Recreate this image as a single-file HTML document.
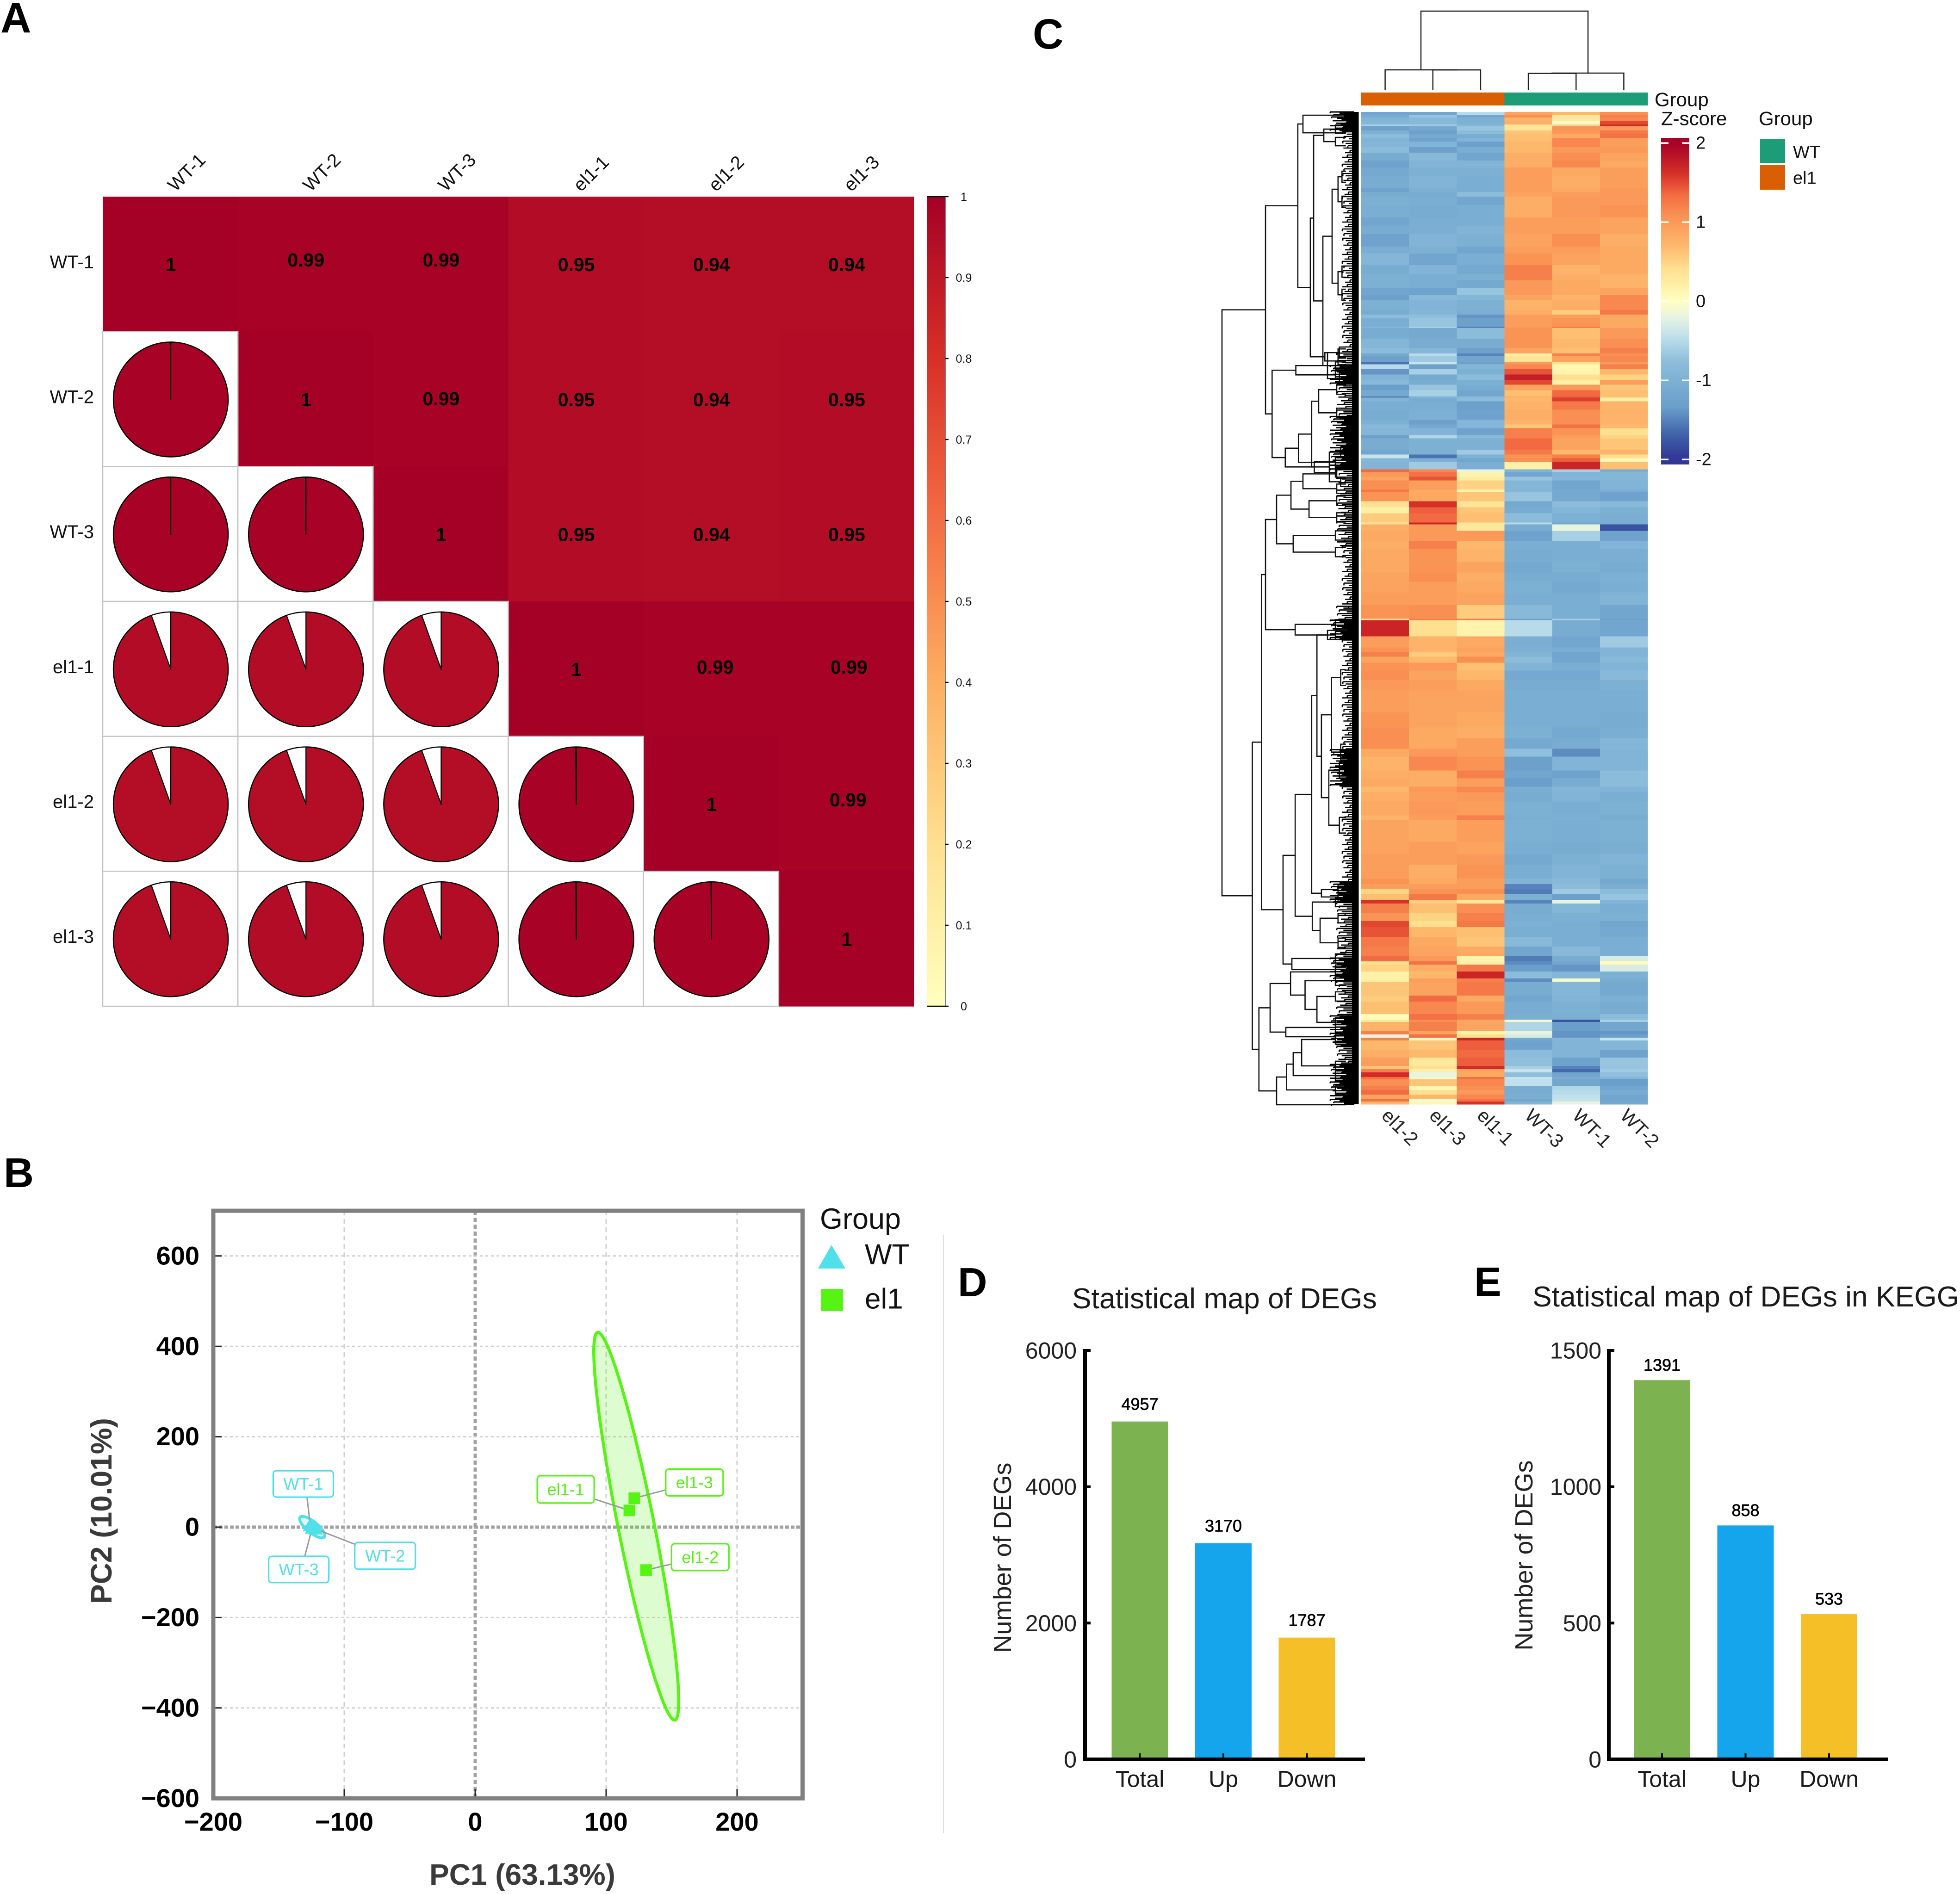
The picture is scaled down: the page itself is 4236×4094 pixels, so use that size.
<!DOCTYPE html>
<html lang="en">
<head>
<meta charset="utf-8">
<title>DEG analysis multi-panel figure</title>
<style>
html,body{margin:0;padding:0;background:#fff}
svg{display:block}
text{font-family:"Liberation Sans",sans-serif}
</style>
</head>
<body>
<svg id="figure" xmlns="http://www.w3.org/2000/svg" width="4236" height="4094" viewBox="0 0 4236 4094">
  <defs>
    <linearGradient id="corrGrad" x1="0" y1="0" x2="0" y2="1"></linearGradient>
    <linearGradient id="zGrad" x1="0" y1="0" x2="0" y2="1"></linearGradient>
  </defs>
  <rect x="0" y="0" width="4236" height="4094" fill="#fff"/>
  <text x="1" y="70" font-size="92" font-weight="700">A</text>
  <text x="8" y="2566" font-size="90" font-weight="700">B</text>
  <text x="2232" y="105" font-size="92" font-weight="700">C</text>
  <text x="2070" y="2802" font-size="88" font-weight="700">D</text>
  <text x="3186" y="2801" font-size="88" font-weight="700">E</text>
  <line x1="2039" y1="2670" x2="2039" y2="3962" stroke="#dedede" stroke-width="2"/>
  <g id="panelA"></g>
  <g id="panelB"></g>
  <g id="panelC"></g>
  <g id="panelD"></g>
  <g id="panelE"></g>
</svg>
<script>
/* ---------- Panel A data ---------- */
const corrSamples = ['WT-1','WT-2','WT-3','el1-1','el1-2','el1-3'];
const corrValues = [
  [1,0.99,0.99,0.95,0.94,0.94],
  [0.99,1,0.99,0.95,0.94,0.95],
  [0.99,0.99,1,0.95,0.94,0.95],
  [0.95,0.95,0.95,1,0.99,0.99],
  [0.94,0.94,0.94,0.99,1,0.99],
  [0.94,0.95,0.95,0.99,0.99,1]
];
const pieShares = [
  [1,1,1,1,1,1],
  [0.9985,1,1,1,1,1],
  [0.9985,0.9985,1,1,1,1],
  [0.945,0.945,0.945,1,1,1],
  [0.945,0.945,0.945,0.998,1,1],
  [0.945,0.945,0.945,0.9985,0.9985,1]
];
const corrBarTicks = [1,0.9,0.8,0.7,0.6,0.5,0.4,0.3,0.2,0.1,0];

/* ---------- Panel B data ---------- */
const pcaXTicks = [-200,-100,0,100,200];
const pcaYTicks = [600,400,200,0,-200,-400,-600];
const wtNames = ['WT-1','WT-2','WT-3'];
const wtPC1 = [-126,-122,-124.5];
const wtPC2 = [4,-4,-2];
const el1Names = ['el1-1','el1-2','el1-3'];
const el1PC1 = [117.7,130.5,121.5];
const el1PC2 = [37,-95,64];
const wtEllipse = [-124.5,0,9.2,-22,2.8,9];
const el1Ellipse = [123,2,-29.5,429,13.5,8.3];

/* ---------- Panel C data ---------- */
const heatColumns = ['el1-2','el1-3','el1-1','WT-3','WT-1','WT-2'];
const heatGroups = ['el1','el1','el1','WT','WT','WT'];
const zTicks = [2,1,0,-1,-2];
/* each row: gene-span, then z-score per column */
const heatRows = [
[7,-1.2,-1.2,-.5,.9,.7,1.1],[5,-1.1,-.7,-1.2,1.1,.3,1.2],[7,-.95,-.85,-1,.75,.3,1.15],[8,-.9,-.85,-1,.8,-.1,1.5],[4,-.6,-.65,-.9,.35,.5,1.65],
[9,-1.3,-1.15,-.7,.35,1.05,1],[8,-1,-1.3,-.8,.6,1,1.25],[8,-.8,-1.15,-1.1,.65,.85,1.3],[8,-.95,-1.25,-.95,.65,1.15,.95],[12,-.9,-.95,-1.3,.7,1.15,.95],
[12,-.8,-1.3,-1.05,.7,1,1],[17,-1.1,-.85,-1.2,.8,1.1,.9],[15,-1.25,-.95,-.95,.8,1.15,.85],[18,-1.15,-1,-1,.95,.85,.95],[27,-1.1,-.95,-1.05,.95,.8,.95],
[8,-1.25,-1,-1.05,.95,.85,1],[10,-1.1,-1.1,-.8,.9,.95,1],[18,-1,-1.05,-1.2,.8,1,1],[27,-1.05,-1.1,-1.05,.8,1,1.05],[18,-1.2,-1.05,-1.05,.95,.95,.9],
[18,-1.1,-1.05,-.95,.95,.95,.9],[27,-1.25,-.95,-1,.9,1.1,.8],[15,-1.05,-1,-1.2,.95,.95,.85],[25,-.9,-1.2,-1.05,1.05,.9,.85],[20,-1.1,-.95,-1.15,1.2,.75,.85],
[13,-1,-1.05,-1,1.2,.8,.75],[17,-1,-1.05,-1.15,1,.85,.75],[15,-1.2,-1.25,-.7,1,.85,.9],
[10,-1.3,-.85,-.9,.9,.75,1.15],[22,-1,-.95,-1,.75,.8,1.15],[10,-1.1,-.9,-1.05,.8,.55,1.25],[8,-.8,-.75,-1.4,.95,.95,.85],[18,-1.05,-.7,-1.3,.95,1.05,.85],
[3,-.9,-.6,-1.5,1,1.2,.85],[23,-1.1,-1.15,-.8,1.05,.65,1],[20,-.9,-1.1,-1.1,1.05,.7,1.1],[12,-.8,-.9,-1.3,.9,.65,1.2],[5,-1.15,-.5,-1.5,.25,1.2,1.1],
[13,-1.3,-.65,-1.2,.35,.9,1.15],[5,-1.6,-.4,-1.3,1,.4,1],[10,-.5,-1.3,-.9,1.15,.1,1.2],[12,-1.4,-.6,-1,1.45,.15,.7],[12,-.95,-1.15,-.8,1.75,.4,.5],
[10,-.85,-1.1,-1,1.5,.2,.95],[12,-1.35,-.7,-1.1,.9,1,.6],[13,-1.15,-.6,-1.2,.65,1.35,.65],[3,-1.5,-.9,-.9,.8,1.4,.6],[8,-.95,-1.1,-.8,.7,1.55,.2],
[18,-1.05,-1.05,-1.3,.75,1.25,.75],[22,-1.1,-1,-1.25,.8,1.1,.75],[10,-1,-1.3,-.9,.75,1.1,.75],[8,-.85,-1.15,-.9,.6,1.3,.7],[15,-.9,-.95,-1.25,1.2,1.05,.4],
[7,-1.3,-.55,-.85,1.2,.95,.5],[25,-1.1,-1,-1,1.35,.9,.6],[10,-1.2,-1,-.65,1.25,.7,.75],[8,-.4,-1.6,-1,1.05,1.2,.4],[8,-.9,-1,-1.2,1.1,1.4,.1],[16,-.95,-.65,-1.05,.2,1.7,.65],
[6,1.35,1.15,-.2,-.95,-.6,-1.05],[10,1,1.3,.15,-1.2,-.95,-.9],[8,.9,1.45,.25,-.7,-.9,-.9],[20,1.1,.95,.5,-.9,-1.2,-.95],[5,1.25,.85,.15,-.9,-1.15,-1.05],
[20,1.05,.85,.6,-.7,-1.15,-1.25],[13,.4,1.6,.35,-1.15,-.8,-.85],[13,.2,1.4,.6,-1.1,-.9,-1],[20,.55,1.35,.65,-.8,-1,-1.05],[4,.35,1.7,.3,-.5,-1.2,-1.1],
[14,.8,1,.3,-1.1,-.2,-1.8],[22,.85,1,1,-1.25,-.6,-1.25],[17,.8,1.2,.7,-1.05,-1.05,-.95],[28,.85,1.05,.75,-1.1,-1.05,-1.05],[23,.85,1.05,.9,-1.15,-1,-1.1],
[20,.9,1.1,.8,-1.1,-1.1,-1],[23,.9,.95,.85,-1,-1.15,-1.05],[27,.95,.95,.9,-1.05,-1.05,-.95],[30,1.05,1.1,.55,-.85,-1.05,-1.2],[3,.3,1.2,1.2,-1.3,-.6,-1.3],
[35,1.7,.4,.15,-.5,-1.1,-1.2],[24,.95,.75,.85,-1.05,-1.2,-.65],
[10,1.05,.75,.9,-1,-1.05,-.95],[10,1.2,.55,.85,-.95,-1.2,-.95],[13,.9,.7,1.1,-.8,-1.2,-.85],[17,1.05,1,.65,-.95,-1.05,-.95],[20,1.1,.9,.7,-1.15,-1.15,-.85],
[23,1,.95,.85,-1.1,-1.1,-1],[47,.95,.9,.9,-1.05,-1.05,-1.05],[33,1.05,.9,.85,-1.05,-1.05,-1.1],[23,1.1,.85,.8,-1,-1.15,-1.05],[23,1.1,.85,.95,-1.15,-1.1,-.9],
[17,.85,1,.95,-.75,-1.45,-.95],[30,.75,1.15,1.05,-1.3,-.95,-.95],[17,.8,.8,1.2,-1.2,-1.25,-.8],[18,.85,.8,.95,-1.35,-1.1,-.8],[12,.7,1,1.15,-1.05,-.9,-.95],
[20,.8,.95,1,-1.1,-.95,-1.05],[30,.85,1,.95,-1,-1.05,-1],[10,.75,.95,1.2,-1.05,-1,-1.1],[47,.9,.85,.95,-1,-1.05,-1],
[27,.9,.95,.9,-1.05,-1.1,-1.05],[22,.95,.95,1,-1.15,-1,-.95],[30,.95,.8,1.05,-1.05,-.95,-1],[12,1.05,.85,.95,-.95,-.85,-1.15],[10,.95,.95,.95,-1.5,-.8,-1.05],
[12,.5,1.05,1.1,-1.55,-.65,-.8],[12,.65,1.25,.85,-1,-1.3,-.7],[8,1.6,.55,.3,-1.5,-.2,-.95],[20,1.2,.65,1.1,-1.1,-.9,-1.05],[18,1.05,.5,1.2,-1.05,-1,-1],
[13,1.5,.4,1.25,-1,-1.05,-1.2],[22,1.45,.7,.65,-1.05,-1.05,-1.15],[20,1.25,.85,.6,-.85,-1.05,-1.05],[20,1.2,.9,.85,-1.2,-.85,-1.05],[12,1.35,1,.15,-1.55,-1.1,-.3],
[7,.4,1.3,.2,-1.45,-1.2,.05],[15,.5,.8,1.25,-1.35,-1.4,-.3],
[15,.2,.7,1.7,-.8,-.9,-1],[7,.2,.95,1.2,-1.45,-.1,-1.1],[30,.6,.9,1.25,-1.1,-.9,-1.15],[13,.55,1.35,.85,-1.2,-.95,-1],[27,.65,1.15,1,-1.1,-1,-1.1],
[12,.05,1.3,1.2,-1.05,-1.05,-.8],[5,.3,1.1,.85,-.1,-1.8,-.6],[20,.75,1.2,.9,-.55,-1.35,-1.2],[7,1.2,.9,.15,-.2,-1.4,-1.4],[7,-.2,1.3,.4,-.3,-1.4,-1.3],
[6,1.2,-.1,1.7,-1.15,-.9,-.4],[20,.7,.6,1.4,-1.25,-.95,-.9],[17,.8,.7,1.35,-.8,-.95,-1.25],[18,.95,.3,1.4,-.75,-1.25,-.7],[7,.6,.4,1.65,-.6,-1.5,-.7],
[7,1.2,.2,.9,-.4,-1.65,-.65],[10,1.65,-.2,.85,-.75,-1.2,-.75],[5,1.3,-.1,1.3,-.4,-1.1,-.9],[15,1.1,.6,1.15,-.45,-1.2,-1.35],[8,1.2,.1,1.1,-1.1,-.55,-1.2],
[10,1.35,.4,1,-1.1,-.5,-1.1],[10,.9,.7,1.15,-1.05,-.45,-1.2],[5,1.3,-.1,1.3,-1.2,-.4,-1.2],[6,.7,.1,1.6,-.95,-.2,-1.15]
];
/* column tree: [height, childA, childB], leaf = column index */
const columnTree = [1,[0.253,0,[0.252,1,2]],[0.212,[0.208,3,4],5]];
/* row tree: [height, childA, childB], leaf = row-order position */
const rowTree = [100,
 [67,
  [42.5,[38.6,7,45],[33,[30.5,[22.8,[14,28,46],[14,55,73]],[23.5,[16.5,[12,[9,128,152],[9,182,206]],[12,[9,333,357],[9,383,407]]],[20,[11,508,532],[11,564,588]]]],[22,[12,512,528],[12,530,546]]]],
  [62,[44,[14,540,556],[14,560,576]],[52,[42,[32,[26.7,[13,590,610],[13,640,660]],[18.6,[10,725,745],[10,789,809]]],[14,747,767]],[30,[14,745,765],[14,769,789]]]]
 ],
 [77,
  [70,
   [67,[58.6,[47.7,[38.6,[13,772,792],[13,804,824]],[34,[13,830,850],[13,866,886]]],[46,[14,905,925],[14,941,961]]],[44.5,[14,1097,1117],[14,1120,1140]]],
   [53.7,
    [44.5,
     [32,[28,[20,1120,1140],[24.6,[17,[10,1205,1239],[10,1366,1400]],[19,[11,1405,1439],[11,1524,1558]]]],[24.6,[12,1670,1690],[12,1686,1706]]],
     [31.5,[14,1697,1717],[25.6,[12,1732,1752],[12,1785,1805]]]
    ],
    [47,[14,1819,1839],[14,1843,1863]]
   ]
  ],
  [72,
   [63.5,[48,[14,1848,1868],[37,[14,1867,1887],[28,[14,1901,1921],[14,1957,1977]]]],[51.6,[14,1968,1988],[14,1988,2008]]],
   [58.6,[51,[46,[39.6,[14,1994,2014],[14,2051,2071]],[14,2072,2092]],[14,2103,2123]],2145]
  ]
 ]
];
/* tree tips density by row-order range */
const tipBands = [
[0,43,'dense'],[43,521,'sparse'],[521,548,'mid'],[548,588,'dense'],[588,658,'mid'],[658,773,'dense'],
[773,938,'mid'],[938,1068,'sparse'],[1068,1098,'mid'],[1098,1141,'dense'],[1141,1378,'sparse'],[1378,1458,'dense'],
[1458,1663,'sparse'],[1663,1708,'dense'],[1708,1828,'mid'],[1828,1878,'dense'],[1878,1953,'mid'],[1953,2019,'dense'],
[2019,2058,'mid'],[2058,2145,'dense']
];
const twigPattern = [1,.6,.85,.4,.95,.7,.5,.9,.3,.75,.55,1,.45,.8];

/* ---------- Panels D / E data ---------- */
const barCategories = ['Total','Up','Down'];
const degCounts = [4957,3170,1787];
const degTicks = [6000,4000,2000,0];
const keggCounts = [1391,858,533];
const keggTicks = [1500,1000,500,0];
const barColors = ['#7cb350','#14a5ec','#f5bf28'];

/* ---------- helpers ---------- */
const NS = 'http://www.w3.org/2000/svg';
function el(tag, attrs, parent, text){
  const n = document.createElementNS(NS, tag);
  for (const k in attrs) n.setAttribute(k, attrs[k]);
  if (text !== undefined) n.textContent = text;
  if (parent) parent.appendChild(n);
  return n;
}
function hex(c){return [parseInt(c.slice(1,3),16),parseInt(c.slice(3,5),16),parseInt(c.slice(5,7),16)];}
function ramp(stops, v){
  if (v <= stops[0][0]) return stops[0][1];
  for (let i = 1; i < stops.length; i++){
    if (v <= stops[i][0]){
      const t = (v - stops[i-1][0]) / (stops[i][0] - stops[i-1][0]);
      const a = hex(stops[i-1][1]), b = hex(stops[i][1]);
      return 'rgb(' + a.map((x,j)=>Math.round(x+(b[j]-x)*t)).join(',') + ')';
    }
  }
  return stops[stops.length-1][1];
}
const corrStops = [[0,'#ffffbf'],[.2,'#fee090'],[.4,'#fdae61'],[.6,'#f46d43'],[.8,'#d73027'],[1,'#a50026']];
const zStops = [[-2,'#313695'],[-1.7,'#3f60a8'],[-1.35,'#6a9ecb'],[-1,'#7db1d4'],[-.75,'#8fbfdc'],[-.45,'#c0e0ec'],[-.2,'#e8f4e0'],[0,'#ffffbf'],[.4,'#fee090'],[.7,'#fdb86c'],[1.1,'#f98f52'],[1.35,'#f26a41'],[1.6,'#d73027'],[2,'#a50026']];
const base = (c, s) => c + 0.35 * s;

/* ---------- Panel A ---------- */
(function(){
  const g = document.getElementById('panelA');
  const xA = c => 222 + c * 292.17;
  const yA = r => 425 + r * 291.67;
  const cw = 292.17, ch = 291.67, pieR = 124;
  const nudge = {'0,1':[0,-10],'0,2':[0,-10],'1,2':[0,-2],'3,4':[8,-5],'3,5':[5,-5],'4,5':[3,-10]};
  corrValues.forEach((row, r) => {
    row.forEach((v, c) => {
      if (c >= r){
        const cell = el('rect',{x:xA(c),y:yA(r),width:cw+.6,height:ch+.6,fill:ramp(corrStops,v)},g);
        
        
      }
    });
  });
  corrValues.forEach((row, r) => {
    row.forEach((v, c) => {
      const cx = xA(c + .5) + 1, cy = yA(r + .5) + 1;
      if (c >= r){
        const n = nudge[r + ',' + c] || [0,0];
        const t = el('text',{x:cx+n[0],y:base(cy+n[1],41),'font-size':41,'font-weight':700,'text-anchor':'middle',fill:'#000'},g,String(v));
        
        
      } else {
        const bg = el('rect',{x:xA(c),y:yA(r),width:cw,height:ch,fill:'#fff',stroke:'#c4c4c4','stroke-width':2.5},g);
        
        
        const share = pieShares[r][c];
        const ang = share * 2 * Math.PI;
        const ex = cx + pieR * Math.sin(ang), ey = cy - pieR * Math.cos(ang);
        const d = 'M'+cx+' '+cy+'L'+cx+' '+(cy-pieR)+'A'+pieR+' '+pieR+' 0 '+(share>.5?1:0)+' 1 '+ex+' '+ey+'Z';
        const pie = el('path',{d:d,fill:ramp(corrStops,v),stroke:'#000','stroke-width':2.2,'stroke-linejoin':'round'},g);
        
        
        const rim = el('circle',{cx:cx,cy:cy,r:pieR,fill:'none',stroke:'#000','stroke-width':2.4},g);
        
        
      }
    });
  });
  corrSamples.forEach((s, i) => {
    const a = el('text',{x:203,y:base(yA(i+.5)-5,40),'font-size':40,'text-anchor':'end',fill:'#111'},g,s);
    
    
    const px = xA(i+.5) + 11, py = 416;
    const b = el('text',{x:px,y:py,'font-size':40,fill:'#111',transform:'rotate(-45 '+px+' '+py+')'},g,s);
    
    
  });
  const grad = document.getElementById('corrGrad');
  for (let i = 0; i <= 20; i++){
    el('stop',{offset:i/20,'stop-color':ramp(corrStops,1-i/20)},grad);
  }
  const yBar = v => 425 + (1 - v) * 1750;
  const bar = el('rect',{x:2004,y:yBar(1),width:39,height:yBar(0)-yBar(1),fill:'url(#corrGrad)'},g);
  
  
  const axisL = el('line',{x1:2043,x2:2043,y1:yBar(1),y2:yBar(0),stroke:'#555','stroke-width':1.5},g);
  
  
  corrBarTicks.forEach(v => {
    const end = (v === 1 || v === 0);
    const tk = el('line',{x1:end?2004:2043,x2:2050,y1:yBar(v),y2:yBar(v),stroke:'#000','stroke-width':2.5},g);
    
    
    const lb = el('text',{x:2083,y:base(yBar(v),25),'font-size':25,'text-anchor':'middle',fill:'#111'},g,String(v));
    
    
  });
})();

/* ---------- Panel B ---------- */
(function(){
  const g = document.getElementById('panelB');
  const xB = v => 1027 + v * 2.83;
  const yB = v => 3301 - v * 0.977;
  const L = xB(-200), R = xB(250), T = yB(700), B = yB(-600);
  const CY = '#4fe0ea', GR = '#55f413';
  pcaXTicks.forEach(v => {
    if (v === -200) return;
    const ln = el('line',{x1:xB(v),x2:xB(v),y1:T,y2:B,stroke:v===0?'#a2a2a2':'#cfcfcf','stroke-width':v===0?7:3,'stroke-dasharray':v===0?'9 6':'10 8'},g);
    
    
  });
  pcaYTicks.forEach(v => {
    if (v === -600) return;
    const ln = el('line',{x1:L,x2:R,y1:yB(v),y2:yB(v),stroke:v===0?'#a2a2a2':'#cfcfcf','stroke-width':v===0?7:3,'stroke-dasharray':v===0?'8 4':'6 6'},g);
    
    
  });
  function ellipsePath(p){
    let d = '';
    for (let i = 0; i < 96; i++){
      const t = i / 96 * 2 * Math.PI;
      const vx = p[0] + p[2]*Math.cos(t) + p[4]*Math.sin(t);
      const vy = p[1] + p[3]*Math.cos(t) + p[5]*Math.sin(t);
      d += (i ? 'L' : 'M') + xB(vx).toFixed(1) + ' ' + yB(vy).toFixed(1);
    }
    return d + 'Z';
  }
  const e1 = el('path',{d:ellipsePath(el1Ellipse),fill:GR,'fill-opacity':.2,stroke:GR,'stroke-width':6.5},g);
  
  
  const e2 = el('path',{d:ellipsePath(wtEllipse),fill:CY,'fill-opacity':.2,stroke:CY,'stroke-width':6},g);
  
  

  /* connector + box layout, relative to the marker */
  const wtLayout = [[-80,-118,130,57,-7,-62],[85,29,131,58,85,33],[-94,61,130,57,-16,61]];
  const el1Layout = [[-199,-75,123,59,-74,-24],[55,-57,124,58,55,-13],[68,-63,124,58,68,-18]];
  function pointLabel(name, px, py, lay, col){
    const conn = el('line',{x1:px,y1:py,x2:px+lay[4],y2:py+lay[5],stroke:'#9a9a9a','stroke-width':3},g);
    
    
    const box = el('rect',{x:px+lay[0],y:py+lay[1],width:lay[2],height:lay[3],rx:7,ry:7,fill:'#fff',stroke:col,'stroke-width':3.2},g);
    
    
    const tx = el('text',{x:px+lay[0]+lay[2]/2,y:base(py+lay[1]+lay[3]/2,36),'font-size':36,'text-anchor':'middle',fill:col},g,name);
    
    
  }
  wtNames.forEach((n, i) => pointLabel(n, xB(wtPC1[i]), yB(wtPC2[i]), wtLayout[i], CY));
  el1Names.forEach((n, i) => pointLabel(n, xB(el1PC1[i]), yB(el1PC2[i]), el1Layout[i], GR));
  wtNames.forEach((n, i) => {
    const px = xB(wtPC1[i]), py = yB(wtPC2[i]);
    const tri = el('path',{d:'M'+px+' '+(py-16)+'L'+(px+16)+' '+(py+12)+'L'+(px-16)+' '+(py+12)+'Z',fill:CY},g);
    
    
  });
  el1Names.forEach((n, i) => {
    const sq = el('rect',{x:xB(el1PC1[i])-12.5,y:yB(el1PC2[i])-12.5,width:25,height:25,fill:GR},g);
    
    
  });
  pcaXTicks.forEach(v => {
    const tk = el('line',{x1:xB(v),x2:xB(v),y1:B,y2:B-20,stroke:'#222','stroke-width':3},g);
    
    
    const lb = el('text',{x:xB(v),y:3957,'font-size':56,'font-weight':700,'text-anchor':'middle',fill:'#000'},g,String(v).replace('-','\u2212'));
    
    
  });
  pcaYTicks.forEach(v => {
    const tk = el('line',{x1:L,x2:L+18,y1:yB(v),y2:yB(v),stroke:'#222','stroke-width':3},g);
    
    
    const lb = el('text',{x:431,y:base(yB(v)-1,56),'font-size':56,'font-weight':700,'text-anchor':'end',fill:'#000'},g,String(v).replace('-','\u2212'));
    
    
  });
  const frame = el('rect',{x:L,y:T,width:R-L,height:B-T,fill:'none',stroke:'#808080','stroke-width':9},g);
  
  
  const xt = el('text',{x:1129,y:4074,'font-size':64,'font-weight':700,'text-anchor':'middle',fill:'#3a3a3a'},g,'PC1 (63.13%)');
  
  
  const yt = el('text',{x:241,y:3266,'font-size':64,'font-weight':700,'text-anchor':'middle',fill:'#3a3a3a',transform:'rotate(-90 241 3266)'},g,'PC2 (10.01%)');
  
  
  const lt = el('text',{x:1772,y:base(2634,63),'font-size':63,fill:'#111'},g,'Group');
  
  
  const lk1 = el('path',{d:'M1797 2691L1827 2742L1768 2742Z',fill:CY},g);
  
  
  const ll1 = el('text',{x:1869,y:base(2711,62),'font-size':62,fill:'#111'},g,'WT');
  
  
  const lk2 = el('rect',{x:1774,y:2786,width:48,height:48,fill:GR},g);
  
  
  const ll2 = el('text',{x:1869,y:base(2807,62),'font-size':62,fill:'#111'},g,'el1');
  
  
})();

/* ---------- Panel C ---------- */
(function(){
  const g = document.getElementById('panelC');
  const HL = 2942, HR = 3561, HT = 242, HB = 2387;
  const colW = (HR - HL) / heatColumns.length;
  const xC = i => HL + i * colW;
  const total = heatRows.reduce((s, r) => s + r[0], 0);
  const yR = r => HT + r * (HB - HT) / total;
  const groupColor = {el1:'#d95f02', WT:'#1b9e77'};
  let pos = 0;
  const heatG = el('g',{'shape-rendering':'crispEdges'},g);
  
  
  heatRows.forEach(row => {
    const y0 = yR(pos), y1 = yR(pos + row[0]);
    for (let c = 0; c < heatColumns.length; c++){
      const cell = el('rect',{x:xC(c),y:y0,width:colW+.5,height:y1-y0+.5,fill:ramp(zStops,row[c+1])},heatG);
      
      
    }
    pos += row[0];
  });
  heatGroups.forEach((gr, i) => {
    const a = el('rect',{x:xC(i),y:200,width:colW+.5,height:28,fill:groupColor[gr]},g);
    
    
  });
  heatColumns.forEach((n, i) => {
    const px = xC(i+.5) - 10, py = 2414;
    const t = el('text',{x:px,y:py,'font-size':41,fill:'#222',transform:'rotate(45 '+px+' '+py+')'},g,n);
    
    
  });

  /* column dendrogram */
  const colHeight = h => 194 - h * 170;
  function drawCol(node){
    if (typeof node === 'number') return {x:xC(node+.5), y:194};
    const a = drawCol(node[1]), b = drawCol(node[2]);
    const y = colHeight(node[0]);
    const p = el('path',{d:'M'+a.x+' '+a.y+'V'+y+'H'+b.x+'V'+b.y,fill:'none',stroke:'#222','stroke-width':2.5},g);
    
    
    return {x:(a.x+b.x)/2, y:y};
  }
  drawCol(columnTree);

  /* row dendrogram */
  const xH = h => 2926 - h * 2.85;
  const leafH = 6;
  function drawRow(node){
    if (typeof node === 'number') return {x:xH(leafH), y:yR(node)};
    const a = drawRow(node[1]), b = drawRow(node[2]);
    const x = xH(node[0]);
    const p = el('path',{d:'M'+a.x+' '+a.y+'H'+x+'V'+b.y+'H'+b.x,fill:'none',stroke:'#111','stroke-width':2.6},g);
    
    
    return {x:x, y:(a.y+b.y)/2};
  }
  drawRow(rowTree);
  const tipStyle = {sparse:{step:5,len:24,w:2.6},mid:{step:4,len:36,w:2.7},dense:{step:2.7,len:50,w:2.9}};
  tipBands.forEach(b => {
    const st = tipStyle[b[2]];
    let d = '', i = 0;
    for (let y = yR(b[0]); y <= yR(b[1]); y += st.step, i++){
      const x0 = 2925 - st.len * twigPattern[i % twigPattern.length];
      d += 'M' + x0.toFixed(1) + ' ' + y.toFixed(1) + 'H2927';
      if (i % 2 === 0) d += 'M' + x0.toFixed(1) + ' ' + y.toFixed(1) + 'v' + st.step;
    }
    const tw = el('path',{d:d,fill:'none',stroke:'#000','stroke-width':st.w},g);
    
    
  });
  const solid = el('rect',{x:2922,y:HT,width:14.5,height:HB-HT,fill:'#000'},g);
  
  

  /* colour bar */
  const yZ = z => 651 - z * 171;
  const grad = document.getElementById('zGrad');
  for (let i = 0; i <= 40; i++){
    el('stop',{offset:i/40,'stop-color':ramp(zStops,2.06-4.13*i/40)},grad);
  }
  const bar = el('rect',{x:3590,y:298,width:61,height:706,fill:'url(#zGrad)'},g);
  
  
  zTicks.forEach(z => {
    const d1 = el('rect',{x:3590,y:yZ(z)-1.5,width:16,height:3.5,fill:'#fff'},g);
    
    
    const d2 = el('rect',{x:3635,y:yZ(z)-1.5,width:16,height:3.5,fill:'#fff'},g);
    
    
    const t = el('text',{x:3665,y:base(yZ(z)-1,38),'font-size':38,fill:'#111'},g,String(z));
    
    
  });
  const tA = el('text',{x:3576,y:base(215,42),'font-size':42,fill:'#111'},g,'Group');
  
  
  const tZ = el('text',{x:3590,y:base(256,42),'font-size':42,fill:'#111'},g,'Z-score');
  
  
  const tG = el('text',{x:3801,y:base(256,42),'font-size':42,fill:'#111'},g,'Group');
  
  
  const k1 = el('rect',{x:3804,y:301,width:54,height:52,fill:groupColor.WT},g);
  
  
  const k2 = el('rect',{x:3804,y:357,width:54,height:53,fill:groupColor.el1},g);
  
  
  const l1 = el('text',{x:3875,y:base(328,38),'font-size':38,fill:'#111'},g,'WT');
  
  
  const l2 = el('text',{x:3875,y:base(384,38),'font-size':38,fill:'#111'},g,'el1');
  
  
})();

/* ---------- Panels D / E ---------- */
function drawBarPanel(g, title, titleX, titleY, counts, ticks, axisX, axisEnd, firstCenter, labelX, yTitleX, yTitleY, valueGap){
  const maxV = ticks[0];
  const yV = v => 3803 - v * 884 / maxV;
  const xCat = i => firstCenter + i * 180.5;
  const tt = el('text',{x:titleX,y:base(titleY,62.4),'font-size':62.4,fill:'#1a1a1a'},g,title);
  
  
  counts.forEach((v, i) => {
    const b = el('rect',{x:xCat(i)-61,y:yV(v),width:122,height:yV(0)-yV(v),fill:barColors[i]},g);
    
    
    const n = el('text',{x:xCat(i),y:base(yV(v)-valueGap,36),'font-size':36,'text-anchor':'middle',fill:'#000',stroke:'#000','stroke-width':.7},g,String(v));
    
    
    const tk = el('line',{x1:xCat(i),x2:xCat(i),y1:3803,y2:3790,stroke:'#000','stroke-width':4},g);
    
    
    const c = el('text',{x:xCat(i),y:base(3845,50),'font-size':50,'text-anchor':'middle',fill:'#1a1a1a'},g,barCategories[i]);
    
    
  });
  const ya = el('line',{x1:axisX,x2:axisX,y1:yV(maxV)-3,y2:3807,stroke:'#000','stroke-width':8},g);
  
  
  const xa = el('line',{x1:axisX-4,x2:axisEnd,y1:3803,y2:3803,stroke:'#000','stroke-width':8},g);
  
  
  ticks.forEach(v => {
    const tk = el('line',{x1:axisX,x2:axisX+12,y1:yV(v),y2:yV(v),stroke:'#000','stroke-width':6},g);
    
    
    const t = el('text',{x:labelX,y:base(yV(v),50),'font-size':50,'text-anchor':'end',fill:'#222'},g,String(v));
    
    
  });
  const yl = el('text',{x:yTitleX,y:yTitleY,'font-size':54,'text-anchor':'middle',fill:'#222',transform:'rotate(-90 '+yTitleX+' '+yTitleY+')'},g,'Number of DEGs');
  
  
}
drawBarPanel(document.getElementById('panelD'),'Statistical map of DEGs',2317,2806,degCounts,degTicks,2345,2950,2463.5,2327,2185,3367,38);
drawBarPanel(document.getElementById('panelE'),'Statistical map of DEGs in KEGG',3312,2802,keggCounts,keggTicks,3477,4080,3592,3461,3312,3362,33);
</script>
</body>
</html>
